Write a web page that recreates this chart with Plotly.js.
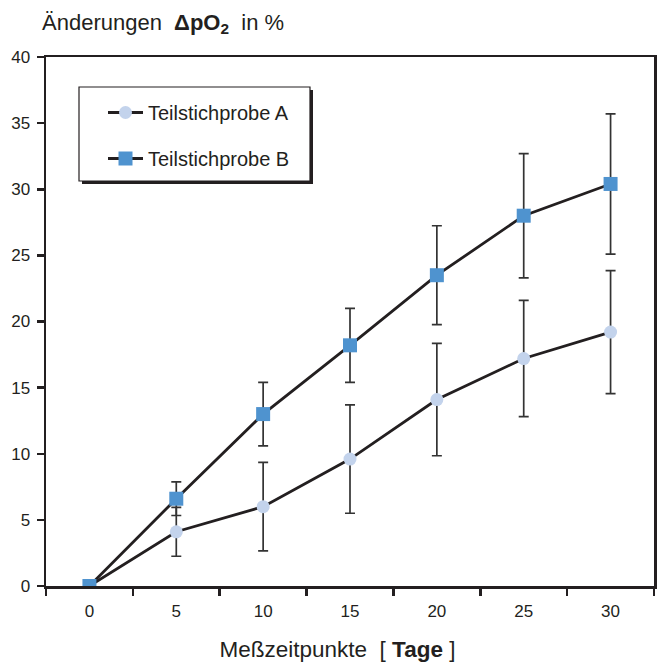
<!DOCTYPE html>
<html>
<head>
<meta charset="utf-8">
<script src="https://cdn.plot.ly/plotly-3.0.1.min.js"></script>
<style>html,body{margin:0;padding:0;background:#fff;}#chart{width:657px;height:666px;}</style>
</head>
<body>
<div id="chart"></div>
<script>
const days = ['0', '5', '10', '15', '20', '25', '30'];
const probeA = [0, 4.1, 6.0, 9.6, 14.1, 17.2, 19.2];
const errA = [0, 1.85, 3.35, 4.1, 4.25, 4.4, 4.65];
const probeB = [0, 6.6, 13.0, 18.2, 23.5, 28.0, 30.4];
const errB = [0, 1.27, 2.4, 2.8, 3.74, 4.7, 5.3];
const yTicks = [0, 5, 10, 15, 20, 25, 30, 35, 40];

const ink = '#231f20';
const L = 46, R = 654, T = 57, B = 586;
const W = R - L, H = B - T;
const px = v => (v - L) / W;
const py = v => 1 - (v - T) / H;

const traces = [
  {
    x: days, y: probeA, name: 'Teilstichprobe A', type: 'scatter', mode: 'lines+markers',
    legendgroup: 'a',
    line: {color: ink, width: 2.8},
    marker: {symbol: 'circle', size: 13, color: '#c3d3ec'},
    error_y: {type: 'data', array: errA, visible: true, color: '#333', thickness: 1.7, width: 5}
  },
  {
    x: days, y: probeB, name: 'Teilstichprobe B', type: 'scatter', mode: 'lines+markers',
    legendgroup: 'b',
    line: {color: ink, width: 2.8},
    marker: {symbol: 'square', size: 14, color: '#4f93cf'},
    error_y: {type: 'data', array: errB, visible: true, color: '#333', thickness: 1.7, width: 5}
  }
];

const layout = {
  width: 657, height: 666,
  margin: {l: L, r: 657 - R, t: T, b: 666 - B},
  paper_bgcolor: '#fff', plot_bgcolor: '#fff',
  font: {family: '"Liberation Sans", Arial, sans-serif', color: ink, size: 17},
  title: {
    text: 'Änderungen  <b>ΔpO<sub>2</sub></b>  in %',
    xref: 'container', x: 42 / 657, xanchor: 'left',
    yref: 'container', y: 1 - 22 / 666, yanchor: 'middle',
    font: {size: 22, color: ink}
  },
  xaxis: {
    type: 'category', categoryorder: 'array', categoryarray: days,
    range: [-0.5, 6.5], autorange: false,
    tickson: 'boundaries', ticks: 'outside', ticklen: 7, tickwidth: 2.5, tickcolor: ink,
    ticklabelstandoff: 8,
    showline: true, linecolor: ink, linewidth: 2.5, mirror: true,
    showgrid: false, zeroline: false,
    tickfont: {size: 17, color: ink},
    title: {text: 'Meßzeitpunkte  [ <b>Tage</b> ]&nbsp;&nbsp;&nbsp;&nbsp;', font: {size: 22.5, color: ink}, standoff: 22}
  },
  yaxis: {
    range: [0, 40], autorange: false, tickvals: yTicks, ticktext: yTicks.map(String),
    ticks: 'outside', ticklen: 7, tickwidth: 2.5, tickcolor: ink,
    ticklabelstandoff: 3,
    showline: true, linecolor: ink, linewidth: 2.5, mirror: true,
    showgrid: false, zeroline: false,
    tickfont: {size: 17, color: ink}
  },
  showlegend: true,
  legend: {
    x: px(103), y: py(93), xanchor: 'left', yanchor: 'top',
    bgcolor: 'rgba(0,0,0,0)', borderwidth: 0,
    font: {size: 20, color: ink},
    traceorder: 'grouped', tracegroupgap: 17,
    itemwidth: 35
  },
  shapes: [
    {type: 'rect', xref: 'paper', yref: 'paper', layer: 'above',
     x0: px(82), x1: px(313), y0: py(184), y1: py(90),
     fillcolor: ink, line: {width: 0}},
    {type: 'rect', xref: 'paper', yref: 'paper', layer: 'above',
     x0: px(79), x1: px(310), y0: py(181), y1: py(87),
     fillcolor: '#fff', line: {color: ink, width: 1.2}}
  ]
};

Plotly.newPlot('chart', traces, layout, {displayModeBar: false, staticPlot: true});
</script>
</body>
</html>
